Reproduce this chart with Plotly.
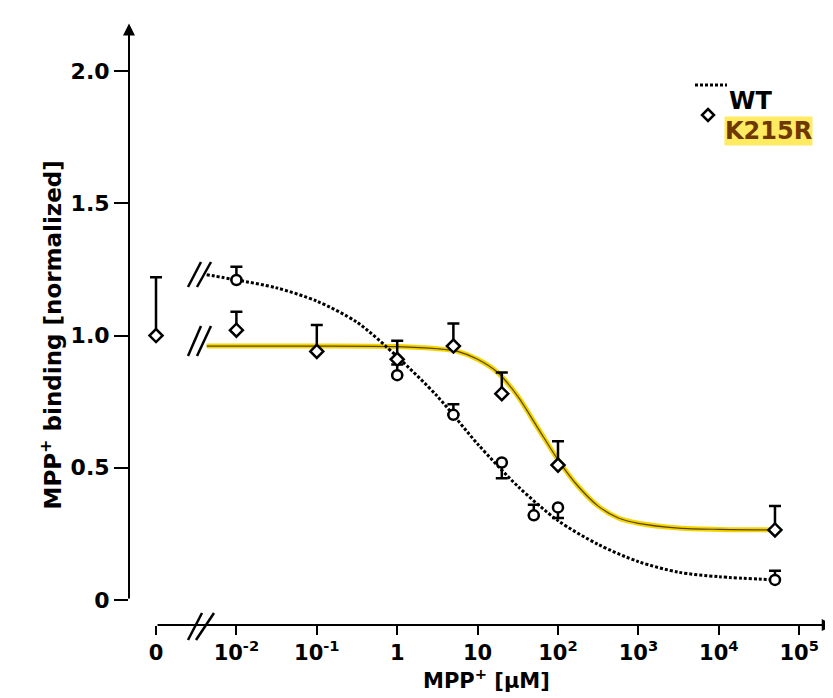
import math
import plotly.graph_objects as go

# ---------------- data ----------------
# concentrations in µM; 0 means "no MPP+" (plotted at the separate "0" tick)
wt_conc = [0.01, 1, 5, 20, 50, 100, 50000]
wt_mean = [1.21, 0.85, 0.70, 0.52, 0.32, 0.35, 0.076]
wt_err_up = [0.05, 0.04, 0.04, 0.0, 0.04, 0.0, 0.035]
wt_err_down = [0.0, 0.0, 0.0, 0.06, 0.0, 0.04, 0.0]

k_conc = [0, 0.01, 0.1, 1, 5, 20, 100, 50000]
k_mean = [1.00, 1.02, 0.94, 0.91, 0.96, 0.78, 0.51, 0.265]
k_err_up = [0.22, 0.07, 0.10, 0.07, 0.085, 0.08, 0.09, 0.09]

# fitted curves (log10 µM -> value)
wt_fit_logc = [-2.37, -2, -1.5, -1, -0.5, 0, 0.5, 1, 1.5, 2, 2.5, 3, 3.5, 4, 4.7]
wt_fit_val = [1.23, 1.21, 1.18, 1.13, 1.05, 0.92, 0.77, 0.59, 0.43, 0.30, 0.21, 0.145, 0.105, 0.088, 0.076]

k_fit_logc = [-2.37, -1, 0, 0.5, 0.75, 1, 1.25, 1.5, 1.75, 2, 2.25, 2.5, 2.75, 3, 3.5, 4, 4.7]
k_fit_val = [0.96, 0.96, 0.958, 0.95, 0.94, 0.91, 0.86, 0.77, 0.65, 0.53, 0.43, 0.355, 0.31, 0.29, 0.272, 0.267, 0.265]

x_tick_vals = [-3, -2, -1, 0, 1, 2, 3, 4, 5]
x_tick_text = ["0", "10<sup>-2</sup>", "10<sup>-1</sup>", "1", "10",
               "10<sup>2</sup>", "10<sup>3</sup>", "10<sup>4</sup>", "10<sup>5</sup>"]
y_tick_vals = [0, 0.5, 1.0, 1.5, 2.0]
y_tick_text = ["0", "0.5", "1.0", "1.5", "2.0"]

ZERO_POS = -3  # axis position used for the zero-concentration point


def pos(c):
    return math.log10(c) if c > 0 else ZERO_POS


FONT = "DejaVu Sans"
BLACK = "#000000"
YELLOW = "#f3d400"

fig = go.Figure()

# K215R fit: yellow band with a dark core
fig.add_trace(go.Scatter(x=k_fit_logc, y=k_fit_val, mode="lines",
                         line=dict(color=YELLOW, width=5, shape="spline", smoothing=0.8),
                         hoverinfo="skip", showlegend=False))
fig.add_trace(go.Scatter(x=k_fit_logc, y=k_fit_val, mode="lines",
                         line=dict(color="#5a4400", width=1.2, shape="spline", smoothing=0.8),
                         hoverinfo="skip", showlegend=False))
# WT fit: dotted black
fig.add_trace(go.Scatter(x=wt_fit_logc, y=wt_fit_val, mode="lines",
                         line=dict(color=BLACK, width=3, dash="3px,2px", shape="spline", smoothing=0.8),
                         hoverinfo="skip", showlegend=False))

# WT data
fig.add_trace(go.Scatter(
    x=[pos(c) for c in wt_conc], y=wt_mean, mode="markers",
    marker=dict(symbol="circle", size=10, color="white", line=dict(color=BLACK, width=2.5)),
    error_y=dict(type="data", symmetric=False, array=wt_err_up, arrayminus=wt_err_down,
                 color=BLACK, thickness=2.5, width=6),
    showlegend=False))

# K215R data
fig.add_trace(go.Scatter(
    x=[pos(c) for c in k_conc], y=k_mean, mode="markers",
    marker=dict(symbol="diamond", size=10, color="white", line=dict(color=BLACK, width=2.5)),
    error_y=dict(type="data", symmetric=False, array=k_err_up, arrayminus=[0] * len(k_conc),
                 color=BLACK, thickness=2.5, width=6),
    showlegend=False))

# ---------------- layout geometry ----------------
W, H = 833, 698
ML, MR, MT, MB = 121, 5, 10, 81
PW, PH = W - ML - MR, H - MT - MB


def px(xp):  # pixel -> paper x
    return (xp - ML) / PW


def py(yp):  # pixel -> paper y
    return (H - MB - yp) / PH


shapes = []
# axis break marks on the x axis
for x0, x1 in [(180, 194), (188, 206)]:
    shapes.append(dict(type="line", xref="paper", yref="paper",
                       x0=px(x0), x1=px(x1), y0=py(632), y1=py(605),
                       line=dict(color=BLACK, width=2.5)))
# break marks at the start of the curves
for (ya, yb) in [(279, 254), (348, 318)]:
    for x0, x1 in [(180, 193), (189, 203)]:
        shapes.append(dict(type="line", xref="paper", yref="paper",
                           x0=px(x0), x1=px(x1), y0=py(ya), y1=py(yb),
                           line=dict(color=BLACK, width=2.5)))
# legend: dotted line for WT
shapes.append(dict(type="line", xref="paper", yref="paper",
                   x0=px(687), x1=px(719), y0=py(77), y1=py(77),
                   line=dict(color=BLACK, width=3, dash="3px,2px")))
# legend: diamond for K215R
cx, cy, d = 700, 107, 6
shapes.append(dict(type="path", xref="paper", yref="paper",
                   path=f"M {px(cx)},{py(cy - d)} L {px(cx + d)},{py(cy)} L {px(cx)},{py(cy + d)} L {px(cx - d)},{py(cy)} Z",
                   fillcolor="white", line=dict(color=BLACK, width=2.5)))

BOLD = dict(family=FONT, color=BLACK, weight="bold")

annotations = [
    # y axis line with arrow
    dict(xref="paper", x=0, yref="y", y=2.18, axref="pixel", ax=0, ayref="y", ay=0,
         showarrow=True, arrowhead=2, arrowsize=1.2, arrowwidth=2, arrowcolor=BLACK, text=""),
    # x axis line with arrow
    dict(xref="x", x=5.43, yref="paper", y=0, axref="x", ax=ZERO_POS, ayref="pixel", ay=0,
         showarrow=True, arrowhead=2, arrowsize=1.2, arrowwidth=2, arrowcolor=BLACK, text=""),
    # axis titles
    dict(xref="paper", x=px(26), yref="y", y=1.0, text="MPP<sup>+</sup> binding [normalized]",
         textangle=-90, showarrow=False, font=dict(size=23, **BOLD)),
    dict(xref="paper", x=px(478), yref="paper", y=py(687), text="MPP<sup>+</sup> [µM]",
         showarrow=False, font=dict(size=21, **BOLD)),
    # legend texts
    dict(xref="paper", x=px(719), yref="paper", y=py(77), text="WT", xanchor="left",
         showarrow=False, font=dict(size=24, **BOLD)),
    dict(xref="paper", x=px(716), yref="paper", y=py(108), text="K215R", xanchor="left",
         showarrow=False, bgcolor="rgba(255,226,30,0.7)", borderpad=0,
         font=dict(family=FONT, size=24, color="#6e3800", weight="bold")),
]

fig.update_layout(
    width=W, height=H, autosize=False,
    margin=dict(l=ML, r=MR, t=MT, b=MB),
    paper_bgcolor="white", plot_bgcolor="white",
    font=dict(family=FONT, size=22, color=BLACK),
    xaxis=dict(range=[-3.336, 5.458], showgrid=False, zeroline=False, showline=False,
               tickmode="array", tickvals=x_tick_vals, ticktext=x_tick_text,
               ticks="outside", ticklen=9, tickwidth=2, tickcolor=BLACK,
               tickfont=dict(size=21, **BOLD)),
    yaxis=dict(range=[-0.0945, 2.2004], showgrid=False, zeroline=False, showline=False,
               tickmode="array", tickvals=y_tick_vals, ticktext=y_tick_text,
               ticks="outside", ticklen=14, tickwidth=2, tickcolor=BLACK,
               tickfont=dict(size=22, **BOLD)),
    shapes=shapes, annotations=annotations, showlegend=False,
)

fig.write_html("out.html")
